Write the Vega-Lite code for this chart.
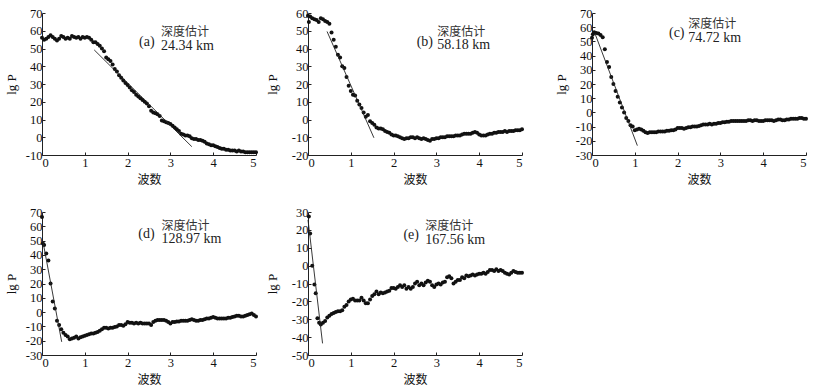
{
"$schema":"https://vega.github.io/schema/vega-lite/v6.json",
"padding":{"left":5,"top":7,"right":0,"bottom":0},
"bounds":"flush","align":"each","columns":5,"spacing":{"row":57,"column":0},
"datasets":{
"a":[{"x":0,"y":56},{"x":0.05,"y":55},{"x":0.1,"y":55.5},{"x":0.15,"y":56.5},{"x":0.2,"y":57.5},{"x":0.25,"y":56.5},{"x":0.3,"y":55.5},{"x":0.35,"y":54.5},{"x":0.4,"y":55.5},{"x":0.45,"y":57},{"x":0.5,"y":56.5},{"x":0.55,"y":55.5},{"x":0.6,"y":56},{"x":0.65,"y":55.5},{"x":0.7,"y":57},{"x":0.75,"y":56.5},{"x":0.8,"y":56},{"x":0.85,"y":56.5},{"x":0.9,"y":55.5},{"x":0.95,"y":56.5},{"x":1.0,"y":56},{"x":1.05,"y":56.5},{"x":1.1,"y":56},{"x":1.15,"y":55},{"x":1.2,"y":53.5},{"x":1.25,"y":53.5},{"x":1.3,"y":52.5},{"x":1.35,"y":51.5},{"x":1.4,"y":50},{"x":1.45,"y":48.5},{"x":1.5,"y":45},{"x":1.55,"y":44},{"x":1.6,"y":43},{"x":1.65,"y":41},{"x":1.7,"y":38.5},{"x":1.75,"y":37},{"x":1.8,"y":35},{"x":1.85,"y":33.5},{"x":1.9,"y":32},{"x":1.95,"y":30.5},{"x":2.0,"y":29.5},{"x":2.05,"y":28},{"x":2.1,"y":26.5},{"x":2.15,"y":25.5},{"x":2.2,"y":24},{"x":2.25,"y":23},{"x":2.3,"y":22},{"x":2.35,"y":21},{"x":2.4,"y":20},{"x":2.45,"y":19},{"x":2.5,"y":17.5},{"x":2.55,"y":15},{"x":2.6,"y":14},{"x":2.65,"y":13.5},{"x":2.7,"y":13},{"x":2.75,"y":12},{"x":2.8,"y":9.5},{"x":2.85,"y":9},{"x":2.9,"y":8.5},{"x":2.95,"y":8},{"x":3.0,"y":7.5},{"x":3.05,"y":6.5},{"x":3.1,"y":5.5},{"x":3.15,"y":4.5},{"x":3.2,"y":3.5},{"x":3.25,"y":2},{"x":3.3,"y":1.5},{"x":3.35,"y":1},{"x":3.4,"y":1},{"x":3.45,"y":0.5},{"x":3.5,"y":-0.5},{"x":3.55,"y":-1},{"x":3.6,"y":-1},{"x":3.65,"y":-1.5},{"x":3.7,"y":-1.5},{"x":3.75,"y":-2},{"x":3.8,"y":-2.5},{"x":3.85,"y":-3.5},{"x":3.9,"y":-4},{"x":3.95,"y":-4.5},{"x":4.0,"y":-4.5},{"x":4.05,"y":-5},{"x":4.1,"y":-5.5},{"x":4.15,"y":-6},{"x":4.2,"y":-6.5},{"x":4.25,"y":-6.5},{"x":4.3,"y":-7},{"x":4.35,"y":-7},{"x":4.4,"y":-7.5},{"x":4.45,"y":-7.5},{"x":4.5,"y":-7.5},{"x":4.55,"y":-8},{"x":4.6,"y":-7.5},{"x":4.65,"y":-8},{"x":4.7,"y":-8},{"x":4.75,"y":-8.5},{"x":4.8,"y":-8.5},{"x":4.85,"y":-8.5},{"x":4.9,"y":-8.5},{"x":4.95,"y":-8.5},{"x":5.0,"y":-8.5}],
"b":[{"x":0,"y":58.5},{"x":0.02,"y":55},{"x":0.05,"y":58},{"x":0.1,"y":57},{"x":0.15,"y":56.5},{"x":0.2,"y":56},{"x":0.25,"y":55},{"x":0.3,"y":57},{"x":0.35,"y":56.5},{"x":0.4,"y":55.5},{"x":0.45,"y":55},{"x":0.5,"y":54},{"x":0.55,"y":49},{"x":0.6,"y":45},{"x":0.65,"y":41},{"x":0.7,"y":36.5},{"x":0.75,"y":35},{"x":0.8,"y":30},{"x":0.85,"y":29},{"x":0.9,"y":24},{"x":0.95,"y":19},{"x":1.0,"y":16},{"x":1.05,"y":14},{"x":1.1,"y":13.5},{"x":1.15,"y":10.5},{"x":1.2,"y":8.5},{"x":1.25,"y":6.5},{"x":1.3,"y":4},{"x":1.35,"y":1.5},{"x":1.4,"y":2.5},{"x":1.45,"y":-1},{"x":1.5,"y":-2},{"x":1.55,"y":-3},{"x":1.6,"y":-4.5},{"x":1.65,"y":-5},{"x":1.7,"y":-5},{"x":1.75,"y":-5.5},{"x":1.8,"y":-6.5},{"x":1.85,"y":-7},{"x":1.9,"y":-7.5},{"x":1.95,"y":-8.5},{"x":2.0,"y":-9},{"x":2.05,"y":-9},{"x":2.1,"y":-9.5},{"x":2.15,"y":-10},{"x":2.2,"y":-10.5},{"x":2.25,"y":-11},{"x":2.3,"y":-10.5},{"x":2.35,"y":-10.5},{"x":2.4,"y":-10},{"x":2.45,"y":-10},{"x":2.5,"y":-10.5},{"x":2.55,"y":-10},{"x":2.6,"y":-10.5},{"x":2.65,"y":-11},{"x":2.7,"y":-10.5},{"x":2.75,"y":-11},{"x":2.8,"y":-11.5},{"x":2.85,"y":-12},{"x":2.9,"y":-11},{"x":2.95,"y":-11},{"x":3.0,"y":-10.5},{"x":3.05,"y":-10.5},{"x":3.1,"y":-10},{"x":3.15,"y":-10},{"x":3.2,"y":-10},{"x":3.25,"y":-9.5},{"x":3.3,"y":-9.5},{"x":3.35,"y":-9.5},{"x":3.4,"y":-9.5},{"x":3.45,"y":-9},{"x":3.5,"y":-9},{"x":3.55,"y":-9},{"x":3.6,"y":-8.5},{"x":3.65,"y":-8},{"x":3.7,"y":-8},{"x":3.75,"y":-8},{"x":3.8,"y":-8},{"x":3.85,"y":-7.5},{"x":3.9,"y":-7},{"x":3.95,"y":-7.5},{"x":4.0,"y":-8.5},{"x":4.05,"y":-9},{"x":4.1,"y":-9},{"x":4.15,"y":-9},{"x":4.2,"y":-8.5},{"x":4.25,"y":-8},{"x":4.3,"y":-8},{"x":4.35,"y":-7.5},{"x":4.4,"y":-7.5},{"x":4.45,"y":-7},{"x":4.5,"y":-7},{"x":4.55,"y":-7},{"x":4.6,"y":-6.5},{"x":4.65,"y":-7},{"x":4.7,"y":-6.5},{"x":4.75,"y":-6.5},{"x":4.8,"y":-6.5},{"x":4.85,"y":-6},{"x":4.9,"y":-6},{"x":4.95,"y":-6},{"x":5.0,"y":-5.5}],
"c":[{"x":0,"y":52.5},{"x":0.02,"y":55},{"x":0.05,"y":56.5},{"x":0.1,"y":56},{"x":0.15,"y":55.5},{"x":0.2,"y":54.5},{"x":0.25,"y":53},{"x":0.3,"y":44.5},{"x":0.35,"y":35.5},{"x":0.4,"y":32},{"x":0.45,"y":25},{"x":0.5,"y":20},{"x":0.55,"y":15},{"x":0.6,"y":11},{"x":0.65,"y":7},{"x":0.7,"y":3.5},{"x":0.75,"y":0},{"x":0.8,"y":-4},{"x":0.85,"y":-6},{"x":0.9,"y":-9},{"x":0.95,"y":-10},{"x":1.0,"y":-12.5},{"x":1.05,"y":-12},{"x":1.1,"y":-11.5},{"x":1.15,"y":-12},{"x":1.2,"y":-13},{"x":1.25,"y":-14},{"x":1.3,"y":-14.5},{"x":1.35,"y":-14},{"x":1.4,"y":-14},{"x":1.45,"y":-14},{"x":1.5,"y":-14},{"x":1.55,"y":-13.5},{"x":1.6,"y":-13.5},{"x":1.65,"y":-13.5},{"x":1.7,"y":-13.5},{"x":1.75,"y":-13},{"x":1.8,"y":-13},{"x":1.85,"y":-12.5},{"x":1.9,"y":-12.5},{"x":1.95,"y":-12},{"x":2.0,"y":-11},{"x":2.05,"y":-11},{"x":2.1,"y":-11},{"x":2.15,"y":-11.5},{"x":2.2,"y":-11},{"x":2.25,"y":-10.5},{"x":2.3,"y":-10.5},{"x":2.35,"y":-10},{"x":2.4,"y":-10},{"x":2.45,"y":-10},{"x":2.5,"y":-9.5},{"x":2.55,"y":-9},{"x":2.6,"y":-8.5},{"x":2.65,"y":-8.5},{"x":2.7,"y":-8.5},{"x":2.75,"y":-8},{"x":2.8,"y":-8.5},{"x":2.85,"y":-8},{"x":2.9,"y":-8},{"x":2.95,"y":-7.5},{"x":3.0,"y":-7.5},{"x":3.05,"y":-7},{"x":3.1,"y":-7},{"x":3.15,"y":-6.5},{"x":3.2,"y":-6.5},{"x":3.25,"y":-6},{"x":3.3,"y":-6},{"x":3.35,"y":-6},{"x":3.4,"y":-6},{"x":3.45,"y":-6},{"x":3.5,"y":-6},{"x":3.55,"y":-6},{"x":3.6,"y":-6},{"x":3.65,"y":-5.5},{"x":3.7,"y":-5.5},{"x":3.75,"y":-6},{"x":3.8,"y":-5.5},{"x":3.85,"y":-5.5},{"x":3.9,"y":-6},{"x":3.95,"y":-6},{"x":4.0,"y":-6},{"x":4.05,"y":-5.5},{"x":4.1,"y":-5.5},{"x":4.15,"y":-5.5},{"x":4.2,"y":-5.5},{"x":4.25,"y":-6},{"x":4.3,"y":-5.5},{"x":4.35,"y":-5},{"x":4.4,"y":-5},{"x":4.45,"y":-5.5},{"x":4.5,"y":-5.5},{"x":4.55,"y":-5},{"x":4.6,"y":-5},{"x":4.65,"y":-4.5},{"x":4.7,"y":-4.5},{"x":4.75,"y":-4.5},{"x":4.8,"y":-4.5},{"x":4.85,"y":-4},{"x":4.9,"y":-4},{"x":4.95,"y":-4.5},{"x":5.0,"y":-4.5}],
"d":[{"x":0,"y":66.5},{"x":0.02,"y":48},{"x":0.05,"y":47},{"x":0.1,"y":41},{"x":0.15,"y":36},{"x":0.2,"y":20},{"x":0.25,"y":7.5},{"x":0.3,"y":2.5},{"x":0.35,"y":-6},{"x":0.4,"y":-9},{"x":0.45,"y":-12},{"x":0.5,"y":-14.5},{"x":0.55,"y":-16},{"x":0.6,"y":-17},{"x":0.65,"y":-19},{"x":0.7,"y":-18.5},{"x":0.75,"y":-18},{"x":0.8,"y":-17},{"x":0.85,"y":-18.5},{"x":0.9,"y":-17.5},{"x":0.95,"y":-17},{"x":1.0,"y":-16.5},{"x":1.05,"y":-16},{"x":1.1,"y":-15.5},{"x":1.15,"y":-15},{"x":1.2,"y":-15},{"x":1.25,"y":-14.5},{"x":1.3,"y":-14},{"x":1.35,"y":-13},{"x":1.4,"y":-12},{"x":1.45,"y":-11},{"x":1.5,"y":-11},{"x":1.55,"y":-11.5},{"x":1.6,"y":-11},{"x":1.65,"y":-11},{"x":1.7,"y":-10.5},{"x":1.75,"y":-10},{"x":1.8,"y":-9},{"x":1.85,"y":-9},{"x":1.9,"y":-9.5},{"x":1.95,"y":-8.5},{"x":2.0,"y":-7},{"x":2.05,"y":-7.5},{"x":2.1,"y":-7.5},{"x":2.15,"y":-8},{"x":2.2,"y":-7.5},{"x":2.25,"y":-8},{"x":2.3,"y":-7.5},{"x":2.35,"y":-8},{"x":2.4,"y":-8},{"x":2.45,"y":-8},{"x":2.5,"y":-8},{"x":2.55,"y":-9},{"x":2.6,"y":-7},{"x":2.65,"y":-6},{"x":2.7,"y":-5.5},{"x":2.75,"y":-5.5},{"x":2.8,"y":-5.5},{"x":2.85,"y":-5.5},{"x":2.9,"y":-6},{"x":2.95,"y":-7},{"x":3.0,"y":-8},{"x":3.05,"y":-7},{"x":3.1,"y":-7},{"x":3.15,"y":-6.5},{"x":3.2,"y":-6.5},{"x":3.25,"y":-6},{"x":3.3,"y":-6},{"x":3.35,"y":-6},{"x":3.4,"y":-6},{"x":3.45,"y":-5.5},{"x":3.5,"y":-5},{"x":3.55,"y":-5.5},{"x":3.6,"y":-6},{"x":3.65,"y":-6},{"x":3.7,"y":-5.5},{"x":3.75,"y":-5.5},{"x":3.8,"y":-5},{"x":3.85,"y":-4.5},{"x":3.9,"y":-4.5},{"x":3.95,"y":-4},{"x":4.0,"y":-3.5},{"x":4.05,"y":-4},{"x":4.1,"y":-4.5},{"x":4.15,"y":-4.5},{"x":4.2,"y":-4.5},{"x":4.25,"y":-4.5},{"x":4.3,"y":-4.5},{"x":4.35,"y":-4},{"x":4.4,"y":-4},{"x":4.45,"y":-3.5},{"x":4.5,"y":-3},{"x":4.55,"y":-2.5},{"x":4.6,"y":-2.5},{"x":4.65,"y":-3},{"x":4.7,"y":-3},{"x":4.75,"y":-2.5},{"x":4.8,"y":-2},{"x":4.85,"y":-1.5},{"x":4.9,"y":-1},{"x":4.95,"y":-2},{"x":5.0,"y":-3}],
"e":[{"x":0.02,"y":27.5},{"x":0.05,"y":18},{"x":0.1,"y":0},{"x":0.15,"y":-10.5},{"x":0.18,"y":-15.5},{"x":0.22,"y":-29.5},{"x":0.26,"y":-32},{"x":0.3,"y":-33},{"x":0.35,"y":-32},{"x":0.4,"y":-31},{"x":0.45,"y":-29},{"x":0.5,"y":-28},{"x":0.55,"y":-27},{"x":0.6,"y":-26.5},{"x":0.65,"y":-26},{"x":0.7,"y":-25.5},{"x":0.75,"y":-25.5},{"x":0.8,"y":-25},{"x":0.85,"y":-23},{"x":0.9,"y":-22},{"x":0.95,"y":-20},{"x":1.0,"y":-19},{"x":1.05,"y":-18.5},{"x":1.1,"y":-19.5},{"x":1.15,"y":-19.5},{"x":1.2,"y":-19.5},{"x":1.25,"y":-18},{"x":1.3,"y":-19.5},{"x":1.35,"y":-21},{"x":1.4,"y":-21},{"x":1.45,"y":-19},{"x":1.5,"y":-17},{"x":1.55,"y":-16},{"x":1.6,"y":-14.5},{"x":1.65,"y":-16},{"x":1.7,"y":-15},{"x":1.75,"y":-15.5},{"x":1.8,"y":-15},{"x":1.85,"y":-14.5},{"x":1.9,"y":-14},{"x":1.95,"y":-12.5},{"x":2.0,"y":-12.5},{"x":2.05,"y":-13},{"x":2.1,"y":-12},{"x":2.15,"y":-11},{"x":2.2,"y":-12},{"x":2.25,"y":-11},{"x":2.3,"y":-13},{"x":2.35,"y":-12},{"x":2.4,"y":-13},{"x":2.45,"y":-12},{"x":2.5,"y":-10},{"x":2.55,"y":-9},{"x":2.6,"y":-11},{"x":2.65,"y":-10},{"x":2.7,"y":-11},{"x":2.75,"y":-9.5},{"x":2.8,"y":-8.5},{"x":2.85,"y":-9},{"x":2.9,"y":-11},{"x":2.95,"y":-12},{"x":3.0,"y":-10.5},{"x":3.05,"y":-10},{"x":3.1,"y":-10.5},{"x":3.15,"y":-9.5},{"x":3.2,"y":-9},{"x":3.25,"y":-6.5},{"x":3.3,"y":-6},{"x":3.35,"y":-7},{"x":3.4,"y":-10},{"x":3.45,"y":-9},{"x":3.5,"y":-8},{"x":3.55,"y":-8},{"x":3.6,"y":-6.5},{"x":3.65,"y":-7},{"x":3.7,"y":-5.5},{"x":3.75,"y":-6},{"x":3.8,"y":-5.5},{"x":3.85,"y":-5},{"x":3.9,"y":-5.5},{"x":3.95,"y":-5},{"x":4.0,"y":-4.5},{"x":4.05,"y":-4.5},{"x":4.1,"y":-4},{"x":4.15,"y":-4.5},{"x":4.2,"y":-3.5},{"x":4.25,"y":-2.5},{"x":4.3,"y":-2.5},{"x":4.35,"y":-3},{"x":4.4,"y":-2},{"x":4.45,"y":-3},{"x":4.5,"y":-2.5},{"x":4.55,"y":-3},{"x":4.6,"y":-4},{"x":4.65,"y":-4.5},{"x":4.7,"y":-5},{"x":4.75,"y":-4},{"x":4.8,"y":-3},{"x":4.85,"y":-3.5},{"x":4.9,"y":-4},{"x":4.95,"y":-4},{"x":5.0,"y":-4}],
"la":[{"x":1.22,"y":49.2},{"x":3.5,"y":-5.3}],
"lb":[{"x":0.445,"y":49.6},{"x":1.54,"y":-10.3}],
"lc":[{"x":0.07,"y":55.5},{"x":1.06,"y":-23.4}],
"ld":[{"x":0.02,"y":49.7},{"x":0.46,"y":-20.8}],
"le":[{"x":0,"y":25.6},{"x":0.34,"y":-43.5}]
},
"concat":[
{"width":214,"height":142,"layer":[
 {"data":{"name":"a"},"mark":{"type":"point","shape":"circle","filled":true,"size":16,"color":"#111","opacity":1},
  "encoding":{"x":{"field":"x","type":"quantitative","scale":{"domain":[0,5],"nice":false},"axis":{"title":"波数","values":[0,1,2,3,4,5],"tickCount":20,"format":"d"}},
   "y":{"field":"y","type":"quantitative","scale":{"domain":[-10,70],"nice":false,"zero":false},"axis":{"title":"lg P","tickCount":20,"values":[-10,0,10,20,30,40,50,60,70],"labelExpr":"datum.value < 0 ? '-' + abs(datum.value) : '' + datum.value"}}}},
 {"data":{"name":"la"},"mark":{"type":"line","color":"#222","strokeWidth":0.9},"encoding":{"x":{"field":"x","type":"quantitative"},"y":{"field":"y","type":"quantitative"}}},
 {"data":{"values":[{}]},"mark":{"type":"text","font":"Liberation Serif","fontSize":14,"align":"center","baseline":"middle","color":"#222"},"encoding":{"x":{"datum":2.45},"y":{"datum":53.6},"text":{"value":"(a)"}}},
 {"data":{"values":[{}]},"mark":{"type":"text","font":"Noto Sans CJK SC","fontSize":12,"align":"left","baseline":"middle","color":"#333"},"encoding":{"x":{"datum":2.78},"y":{"datum":59.3},"text":{"value":"深度估计"}}},
 {"data":{"values":[{}]},"mark":{"type":"text","font":"Liberation Serif","fontSize":14,"align":"left","baseline":"middle","color":"#222"},"encoding":{"x":{"datum":2.78},"y":{"datum":51.5},"text":{"value":"24.34 km"}}}
]},
{"width":52,"height":142,"data":{"values":[]},"mark":"point"},
{"width":214,"height":142,"layer":[
 {"data":{"name":"b"},"mark":{"type":"point","shape":"circle","filled":true,"size":16,"color":"#111","opacity":1},
  "encoding":{"x":{"field":"x","type":"quantitative","scale":{"domain":[0,5],"nice":false},"axis":{"title":"波数","values":[0,1,2,3,4,5],"tickCount":20,"format":"d"}},
   "y":{"field":"y","type":"quantitative","scale":{"domain":[-20,60],"nice":false,"zero":false},"axis":{"title":"lg P","tickCount":20,"minExtent":27,"maxExtent":27,"values":[-20,-10,0,10,20,30,40,50,60],"labelExpr":"datum.value < 0 ? '-' + abs(datum.value) : '' + datum.value"}}}},
 {"data":{"name":"lb"},"mark":{"type":"line","color":"#222","strokeWidth":0.9},"encoding":{"x":{"field":"x","type":"quantitative"},"y":{"field":"y","type":"quantitative"}}},
 {"data":{"values":[{}]},"mark":{"type":"text","font":"Liberation Serif","fontSize":14,"align":"center","baseline":"middle","color":"#222"},"encoding":{"x":{"datum":2.73},"y":{"datum":43.6},"text":{"value":"(b)"}}},
 {"data":{"values":[{}]},"mark":{"type":"text","font":"Noto Sans CJK SC","fontSize":12,"align":"left","baseline":"middle","color":"#333"},"encoding":{"x":{"datum":3.02},"y":{"datum":49.5},"text":{"value":"深度估计"}}},
 {"data":{"values":[{}]},"mark":{"type":"text","font":"Liberation Serif","fontSize":14,"align":"left","baseline":"middle","color":"#222"},"encoding":{"x":{"datum":3.02},"y":{"datum":41.8},"text":{"value":"58.18 km"}}}
]},
{"width":70,"height":142,"data":{"values":[]},"mark":"point"},
{"width":214,"height":142,"layer":[
 {"data":{"name":"c"},"mark":{"type":"point","shape":"circle","filled":true,"size":16,"color":"#111","opacity":1},
  "encoding":{"x":{"field":"x","type":"quantitative","scale":{"domain":[0,5],"nice":false},"axis":{"title":"波数","values":[0,1,2,3,4,5],"tickCount":20,"format":"d"}},
   "y":{"field":"y","type":"quantitative","scale":{"domain":[-30,70],"nice":false,"zero":false},"axis":{"title":"lg P","tickCount":20,"values":[-30,-20,-10,0,10,20,30,40,50,60,70],"labelExpr":"datum.value < 0 ? '-' + abs(datum.value) : '' + datum.value"}}}},
 {"data":{"name":"lc"},"mark":{"type":"line","color":"#222","strokeWidth":0.9},"encoding":{"x":{"field":"x","type":"quantitative"},"y":{"field":"y","type":"quantitative"}}},
 {"data":{"values":[{}]},"mark":{"type":"text","font":"Liberation Serif","fontSize":14,"align":"center","baseline":"middle","color":"#222"},"encoding":{"x":{"datum":1.98},"y":{"datum":56.2},"text":{"value":"(c)"}}},
 {"data":{"values":[{}]},"mark":{"type":"text","font":"Noto Sans CJK SC","fontSize":12,"align":"left","baseline":"middle","color":"#333"},"encoding":{"x":{"datum":2.25},"y":{"datum":62},"text":{"value":"深度估计"}}},
 {"data":{"values":[{}]},"mark":{"type":"text","font":"Liberation Serif","fontSize":14,"align":"left","baseline":"middle","color":"#222"},"encoding":{"x":{"datum":2.25},"y":{"datum":52.5},"text":{"value":"74.72 km"}}}
]},
{"width":214,"height":143,"layer":[
 {"data":{"name":"d"},"mark":{"type":"point","shape":"circle","filled":true,"size":16,"color":"#111","opacity":1},
  "encoding":{"x":{"field":"x","type":"quantitative","scale":{"domain":[0,5],"nice":false},"axis":{"title":"波数","values":[0,1,2,3,4,5],"tickCount":20,"format":"d"}},
   "y":{"field":"y","type":"quantitative","scale":{"domain":[-30,70],"nice":false,"zero":false},"axis":{"title":"lg P","tickCount":20,"values":[-30,-20,-10,0,10,20,30,40,50,60,70],"labelExpr":"datum.value < 0 ? '-' + abs(datum.value) : '' + datum.value"}}}},
 {"data":{"name":"ld"},"mark":{"type":"line","color":"#222","strokeWidth":0.9},"encoding":{"x":{"field":"x","type":"quantitative"},"y":{"field":"y","type":"quantitative"}}},
 {"data":{"values":[{}]},"mark":{"type":"text","font":"Liberation Serif","fontSize":14,"align":"center","baseline":"middle","color":"#222"},"encoding":{"x":{"datum":2.44},"y":{"datum":54.7},"text":{"value":"(d)"}}},
 {"data":{"values":[{}]},"mark":{"type":"text","font":"Noto Sans CJK SC","fontSize":12,"align":"left","baseline":"middle","color":"#333"},"encoding":{"x":{"datum":2.79},"y":{"datum":60.5},"text":{"value":"深度估计"}}},
 {"data":{"values":[{}]},"mark":{"type":"text","font":"Liberation Serif","fontSize":14,"align":"left","baseline":"middle","color":"#222"},"encoding":{"x":{"datum":2.79},"y":{"datum":50.8},"text":{"value":"128.97 km"}}}
]},
{"width":52,"height":143,"data":{"values":[]},"mark":"point"},
{"width":214,"height":143,"layer":[
 {"data":{"name":"e"},"mark":{"type":"point","shape":"circle","filled":true,"size":16,"color":"#111","opacity":1},
  "encoding":{"x":{"field":"x","type":"quantitative","scale":{"domain":[0,5],"nice":false},"axis":{"title":"波数","values":[0,1,2,3,4,5],"tickCount":20,"format":"d"}},
   "y":{"field":"y","type":"quantitative","scale":{"domain":[-50,30],"nice":false,"zero":false},"axis":{"title":"lg P","tickCount":20,"minExtent":27,"maxExtent":27,"values":[-50,-40,-30,-20,-10,0,10,20,30],"labelExpr":"datum.value < 0 ? '-' + abs(datum.value) : '' + datum.value"}}}},
 {"data":{"name":"le"},"mark":{"type":"line","color":"#222","strokeWidth":0.9},"encoding":{"x":{"field":"x","type":"quantitative"},"y":{"field":"y","type":"quantitative"}}},
 {"data":{"values":[{}]},"mark":{"type":"text","font":"Liberation Serif","fontSize":14,"align":"center","baseline":"middle","color":"#222"},"encoding":{"x":{"datum":2.41},"y":{"datum":17.1},"text":{"value":"(e)"}}},
 {"data":{"values":[{}]},"mark":{"type":"text","font":"Noto Sans CJK SC","fontSize":12,"align":"left","baseline":"middle","color":"#333"},"encoding":{"x":{"datum":2.74},"y":{"datum":22.3},"text":{"value":"深度估计"}}},
 {"data":{"values":[{}]},"mark":{"type":"text","font":"Liberation Serif","fontSize":14,"align":"left","baseline":"middle","color":"#222"},"encoding":{"x":{"datum":2.74},"y":{"datum":14.2},"text":{"value":"167.56 km"}}}
]}
],
"config":{
 "view":{"stroke":null},
 "axis":{"grid":false,"domainColor":"#222","tickColor":"#222","tickSize":-3,"domainWidth":1,"tickWidth":1,"labelFont":"Liberation Serif","labelFontSize":12.5,"labelColor":"#111","titleColor":"#111","titleFontWeight":"normal","labelOverlap":false,"labelBound":false},
 "axisX":{"labelPadding":4,"titlePadding":2,"minExtent":17,"maxExtent":17,"titleFont":"Noto Sans CJK SC","titleFontSize":12},
 "axisY":{"labelPadding":3,"titlePadding":2,"minExtent":22,"maxExtent":22,"titleFont":"Liberation Serif","titleFontSize":13}
}
}
